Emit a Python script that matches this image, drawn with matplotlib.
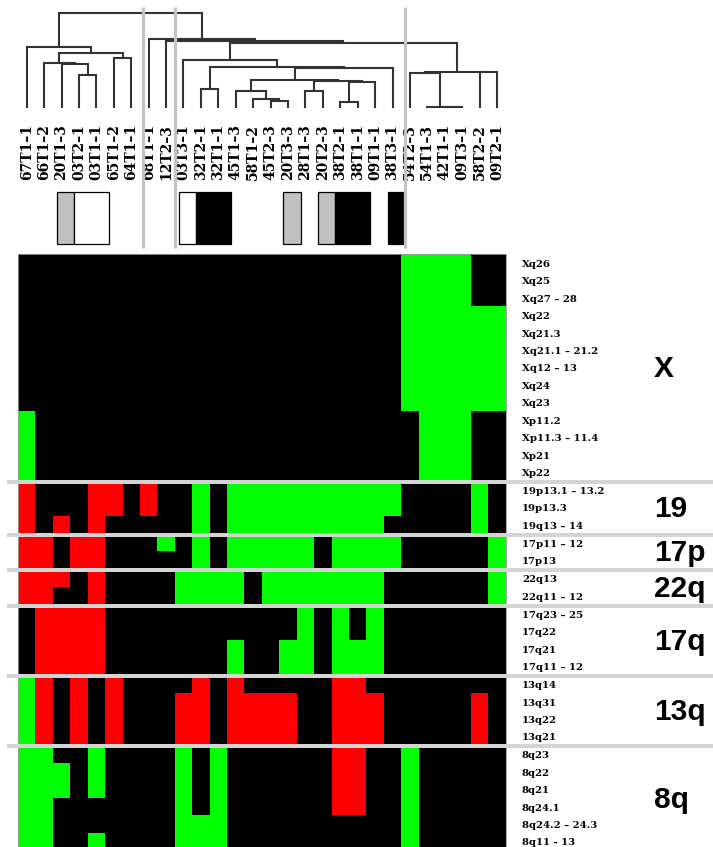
import numpy as np
import matplotlib.pyplot as plt
from matplotlib.colors import ListedColormap
from matplotlib.patches import Rectangle

# sample order (dendrogram leaves / heatmap columns)
samples = ["67T1–1", "66T1–2", "20T1–3", "03T2–1", "03T1–1", "65T1–2", "64T1–1",
           "68T1–1", "12T2–3", "03T3–1", "32T2–1", "32T1–1", "45T1–3", "58T1–2",
           "45T2–3", "20T3–3", "28T1–3", "20T2–3", "38T2–1", "38T1–1", "09T1–1",
           "38T3–1", "54T2–3", "54T1–3", "42T1–1", "09T3–1", "58T2–2", "09T2–1"]

# sample annotation boxes: G grey, W white, B black, '.' none
sample_type = "..GWW....WBB...G.GBB.B......"

# dendrogram merges (child a, child b, height) -- scipy linkage style ids
merges = [
    (3, 4, 0.323), (2, 28, 0.430), (1, 29, 0.446), (5, 6, 0.496),
    (30, 31, 0.546), (0, 32, 0.600), (10, 11, 0.180), (14, 15, 0.066),
    (13, 35, 0.080), (12, 36, 0.166), (16, 17, 0.163), (18, 19, 0.056),
    (39, 20, 0.256), (38, 40, 0.264), (37, 41, 0.268), (42, 21, 0.396),
    (34, 43, 0.400), (9, 44, 0.473), (24, 25, 0.003), (23, 46, 0.006),
    (22, 47, 0.343), (26, 27, 0.354), (48, 49, 0.356), (45, 50, 0.646),
    (8, 51, 0.658), (7, 52, 0.686), (33, 53, 0.946),
]
split_lines = [7.2, 9.0, 22.2]

region_labels = ["Xq26", "Xq25", "Xq27 – 28", "Xq22", "Xq21.3", "Xq21.1 – 21.2",
                 "Xq12 – 13", "Xq24", "Xq23", "Xp11.2", "Xp11.3 – 11.4", "Xp21", "Xp22",
                 "19p13.1 – 13.2", "19p13.3", "19q13 – 14",
                 "17p11 – 12", "17p13",
                 "22q13", "22q11 – 12",
                 "17q23 – 25", "17q22", "17q21", "17q11 – 12",
                 "13q14", "13q31", "13q22", "13q21",
                 "8q23", "8q22", "8q21", "8q24.1", "8q24.2 – 24.3", "8q11 - 13"]
groups = [("X", 13), ("19", 3), ("17p", 2), ("22q", 2), ("17q", 4), ("13q", 4), ("8q", 6)]

# '.' no change (black), 'r' red, 'g' green
calls = [
    "......................gggg..",
    "......................gggg..",
    "......................gggg..",
    "......................gggggg",
    "......................gggggg",
    "......................gggggg",
    "......................gggggg",
    "......................gggggg",
    "......................gggggg",
    "g......................ggg..",
    "g......................ggg..",
    "g......................ggg..",
    "g......................ggg..",
    "r...rr.r..g.gggggggggg....g.",
    "r...rr.r..g.gggggggggg....g.",
    "r.r.r.....g.ggggggggg.....g.",
    "rr.rr...g.g.ggggg.gggg.....g",
    "rr.rr.....g.ggggg.gggg.....g",
    "rrr.r....gggg.ggggggg......g",
    "rr..r....gggg.ggggggg......g",
    ".rrrr...........g.g.g.......",
    ".rrrr...........g.g.g.......",
    ".rrrr.......g..gg.ggg.......",
    ".rrrr.......g..gg.ggg.......",
    "gr.r.r....r.r.....rr........",
    "gr.r.r...rr.rrrr..rrr.....r.",
    "gr.r.r...rr.rrrr..rrr.....r.",
    "gr.r.r...rr.rrrr..rrr.....r.",
    "gg..g....g.g......rr..g.....",
    "ggg.g....g.g......rr..g.....",
    "ggg.g....g.g......rr..g.....",
    "gg.......g.g......rr..g.....",
    "gg.......ggg..........g.....",
    "gg..g....ggg..........g.....",
]
code = {".": 0, "r": 1, "g": -1}

W, H = 713, 847
fig = plt.figure(figsize=(W / 100, H / 100), dpi=100)
fig.patch.set_facecolor("white")

n_col = len(samples)
cell = 17.42
left = 18
gap = 0.035
top_px = 254
n_rows = len(region_labels)
heat_rows = n_rows + gap * (len(groups) - 1)
label_font = dict(family="DejaVu Serif", weight="bold")

# ---- top panel: dendrogram, labels, annotation boxes (pixel y units)
axt = fig.add_axes([left / W, 1 - top_px / H, n_col * cell / W, top_px / H])
axt.set_xlim(0, n_col)
axt.set_ylim(top_px, 0)
axt.axis("off")

leaf_y = 107.3


def to_px(h):
    return leaf_y - 100 * h


node_x = {i: i + 0.5 for i in range(n_col)}
node_h = {i: 0.0 for i in range(n_col)}
for k, (a, b, h) in enumerate(merges):
    nid = n_col + k
    node_x[nid] = (node_x[a] + node_x[b]) / 2
    node_h[nid] = h
    axt.plot([node_x[a], node_x[a], node_x[b], node_x[b]],
             [to_px(node_h[a]), to_px(h), to_px(h), to_px(node_h[b])],
             color="#333333", lw=1.5, solid_joinstyle="miter", zorder=2)

for i, s in enumerate(samples):
    axt.text(i + 0.5, 152, s, rotation=90, ha="center", va="center",
             fontsize=10, color="black", **label_font)

box_colors = {"G": "#c0c0c0", "W": "white", "B": "black"}
i = 0
while i < n_col:
    t = sample_type[i]
    j = i
    while j < n_col and sample_type[j] == t:
        j += 1
    if t in box_colors:
        axt.add_patch(Rectangle((i + 0.22, 192), j - i, 52.3, facecolor=box_colors[t],
                                edgecolor="black", lw=0.9, zorder=3))
    i = j

for xs in split_lines:
    axt.plot([xs, xs], [7, 248], color="#c4c4c4", lw=2.3, zorder=5,
             solid_capstyle="butt")

# ---- heatmap
bottom_px = top_px + heat_rows * cell
ax = fig.add_axes([left / W, 1 - bottom_px / H, n_col * cell / W, heat_rows * cell / H])
ax.set_xlim(0, n_col)
ax.set_ylim(heat_rows, 0)
ax.set_xticks([])
ax.set_yticks([])
for sp in ax.spines.values():
    sp.set_color("#9a9a9a")
    sp.set_linewidth(0.6)

cmap = ListedColormap(["#00ff00", "#000000", "#ff0000"])
r0 = 0
for gi, (name, n) in enumerate(groups):
    y0 = r0 + gi * gap
    vals = np.array([[code[ch] for ch in calls[r]] for r in range(r0, r0 + n)])
    ax.pcolormesh(np.arange(n_col + 1), y0 + np.arange(n + 1), vals, cmap=cmap,
                  vmin=-1, vmax=1, edgecolors="none", antialiased=False)
    for k in range(n):
        ax.text(n_col + 0.93, y0 + k + 0.6, region_labels[r0 + k], ha="left",
                va="center", fontsize=7.3, clip_on=False, **label_font)
    ax.text(36.5, y0 + n / 2 + 0.58, name, ha="left", va="baseline",
            fontsize=21.5, family="Liberation Sans", weight="bold", clip_on=False)
    if gi > 0:
        ys = y0 - gap / 2 + 0.07
        ax.plot([-0.63, 40], [ys, ys], color="#d4d4d4", lw=2.9, clip_on=False,
                zorder=5, solid_capstyle="butt")
    r0 += n

fig.savefig("out.png", dpi=100)
